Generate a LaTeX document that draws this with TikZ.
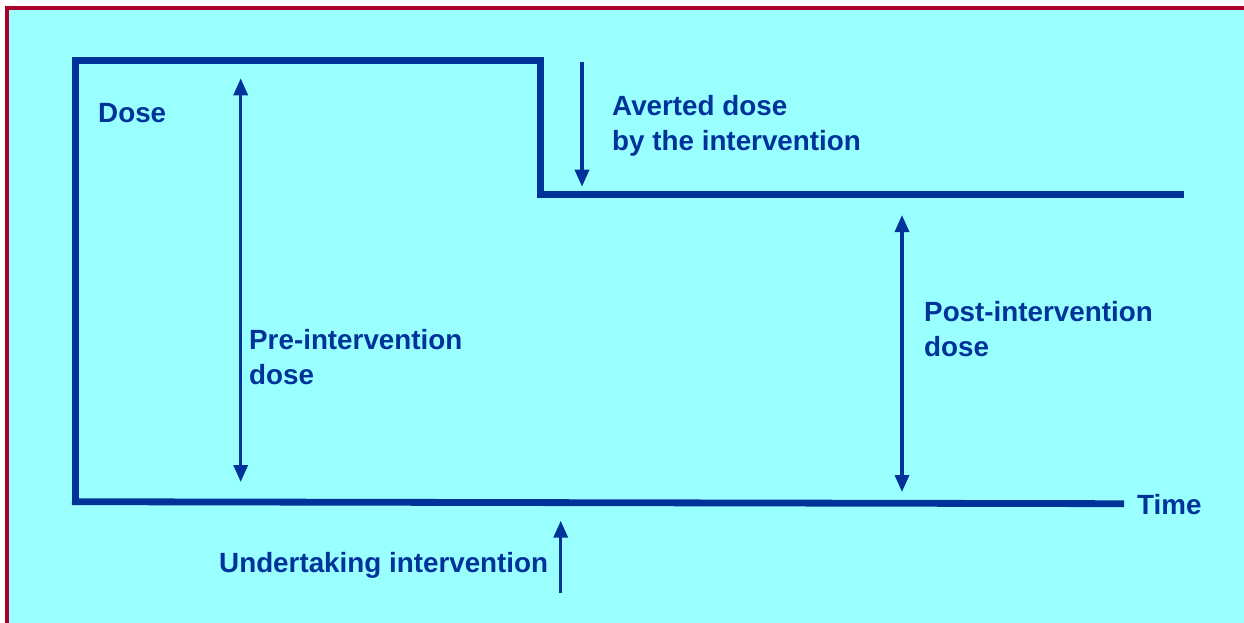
\documentclass[tikz,border=0pt]{standalone}
\usepackage{fontspec}
\setmainfont{Liberation Sans}
\usetikzlibrary{arrows.meta}
\definecolor{panel}{HTML}{99FFFF}
\definecolor{ink}{HTML}{003399}
\definecolor{frame}{HTML}{A8002A}
\begin{document}
\begin{tikzpicture}[x=1pt,y=-1pt,
  curve/.style={draw=ink,line width=6.8pt,line join=miter},
  dimarrow/.style={draw=ink,line width=3.4pt,-{Triangle[length=17pt,width=14pt]}},
  dimboth/.style={draw=ink,line width=3.4pt,{Triangle[length=17pt,width=14pt]}-{Triangle[length=17pt,width=14pt]}},
  lbl/.style={text=ink,font=\fontsize{27.8}{34.5}\selectfont\bfseries,inner sep=0pt,align=left,anchor=north west}]
\useasboundingbox (0,0) rectangle (1244,623);
\fill[white] (0,0) rectangle (1244,623);
\filldraw[fill=panel,draw=frame,line width=4pt] (7,8.5) rectangle (1270,650);

% dose curve before and after the intervention
\coordinate (axisfoot) at (75.8,505);
\coordinate (axistop) at (75.8,60.5);
\coordinate (stephigh) at (540.8,60.5);
\coordinate (steplow) at (540.8,194.7);
\coordinate (levelend) at (1184,194.7);
\draw[curve] (axisfoot) -- (axistop) -- (stephigh) -- (steplow) -- (levelend);

% time axis
\coordinate (timestart) at (72,501.7);
\coordinate (timeend) at (1124,503.7);
\draw[curve] (timestart) -- (timeend);

% dimension arrows
\coordinate (preA) at (240.7,78.3);
\coordinate (preB) at (240.7,482);
\draw[dimboth] (preA) -- (preB);
\coordinate (postA) at (902,215);
\coordinate (postB) at (902,492);
\draw[dimboth] (postA) -- (postB);
\coordinate (avA) at (582,61.7);
\coordinate (avB) at (582,186.7);
\draw[dimarrow] (avA) -- (avB);
\coordinate (utA) at (560.7,592.7);
\coordinate (utB) at (560.7,520.7);
\draw[dimarrow] (utA) -- (utB);

% labels
\node[lbl] (dose) at (98,103.3) {Dose};
\node[lbl] (averted) at (612,95.3) {Averted dose\\by the intervention};
\node[lbl] (pre) at (249,329.3) {Pre-intervention\\dose};
\node[lbl] (post) at (924,301.3) {Post-intervention\\dose};
\node[lbl] (time) at (1137,494.3) {Time};
\node[lbl] (undertaking) at (219,552.3) {Undertaking intervention};
\end{tikzpicture}
\end{document}
